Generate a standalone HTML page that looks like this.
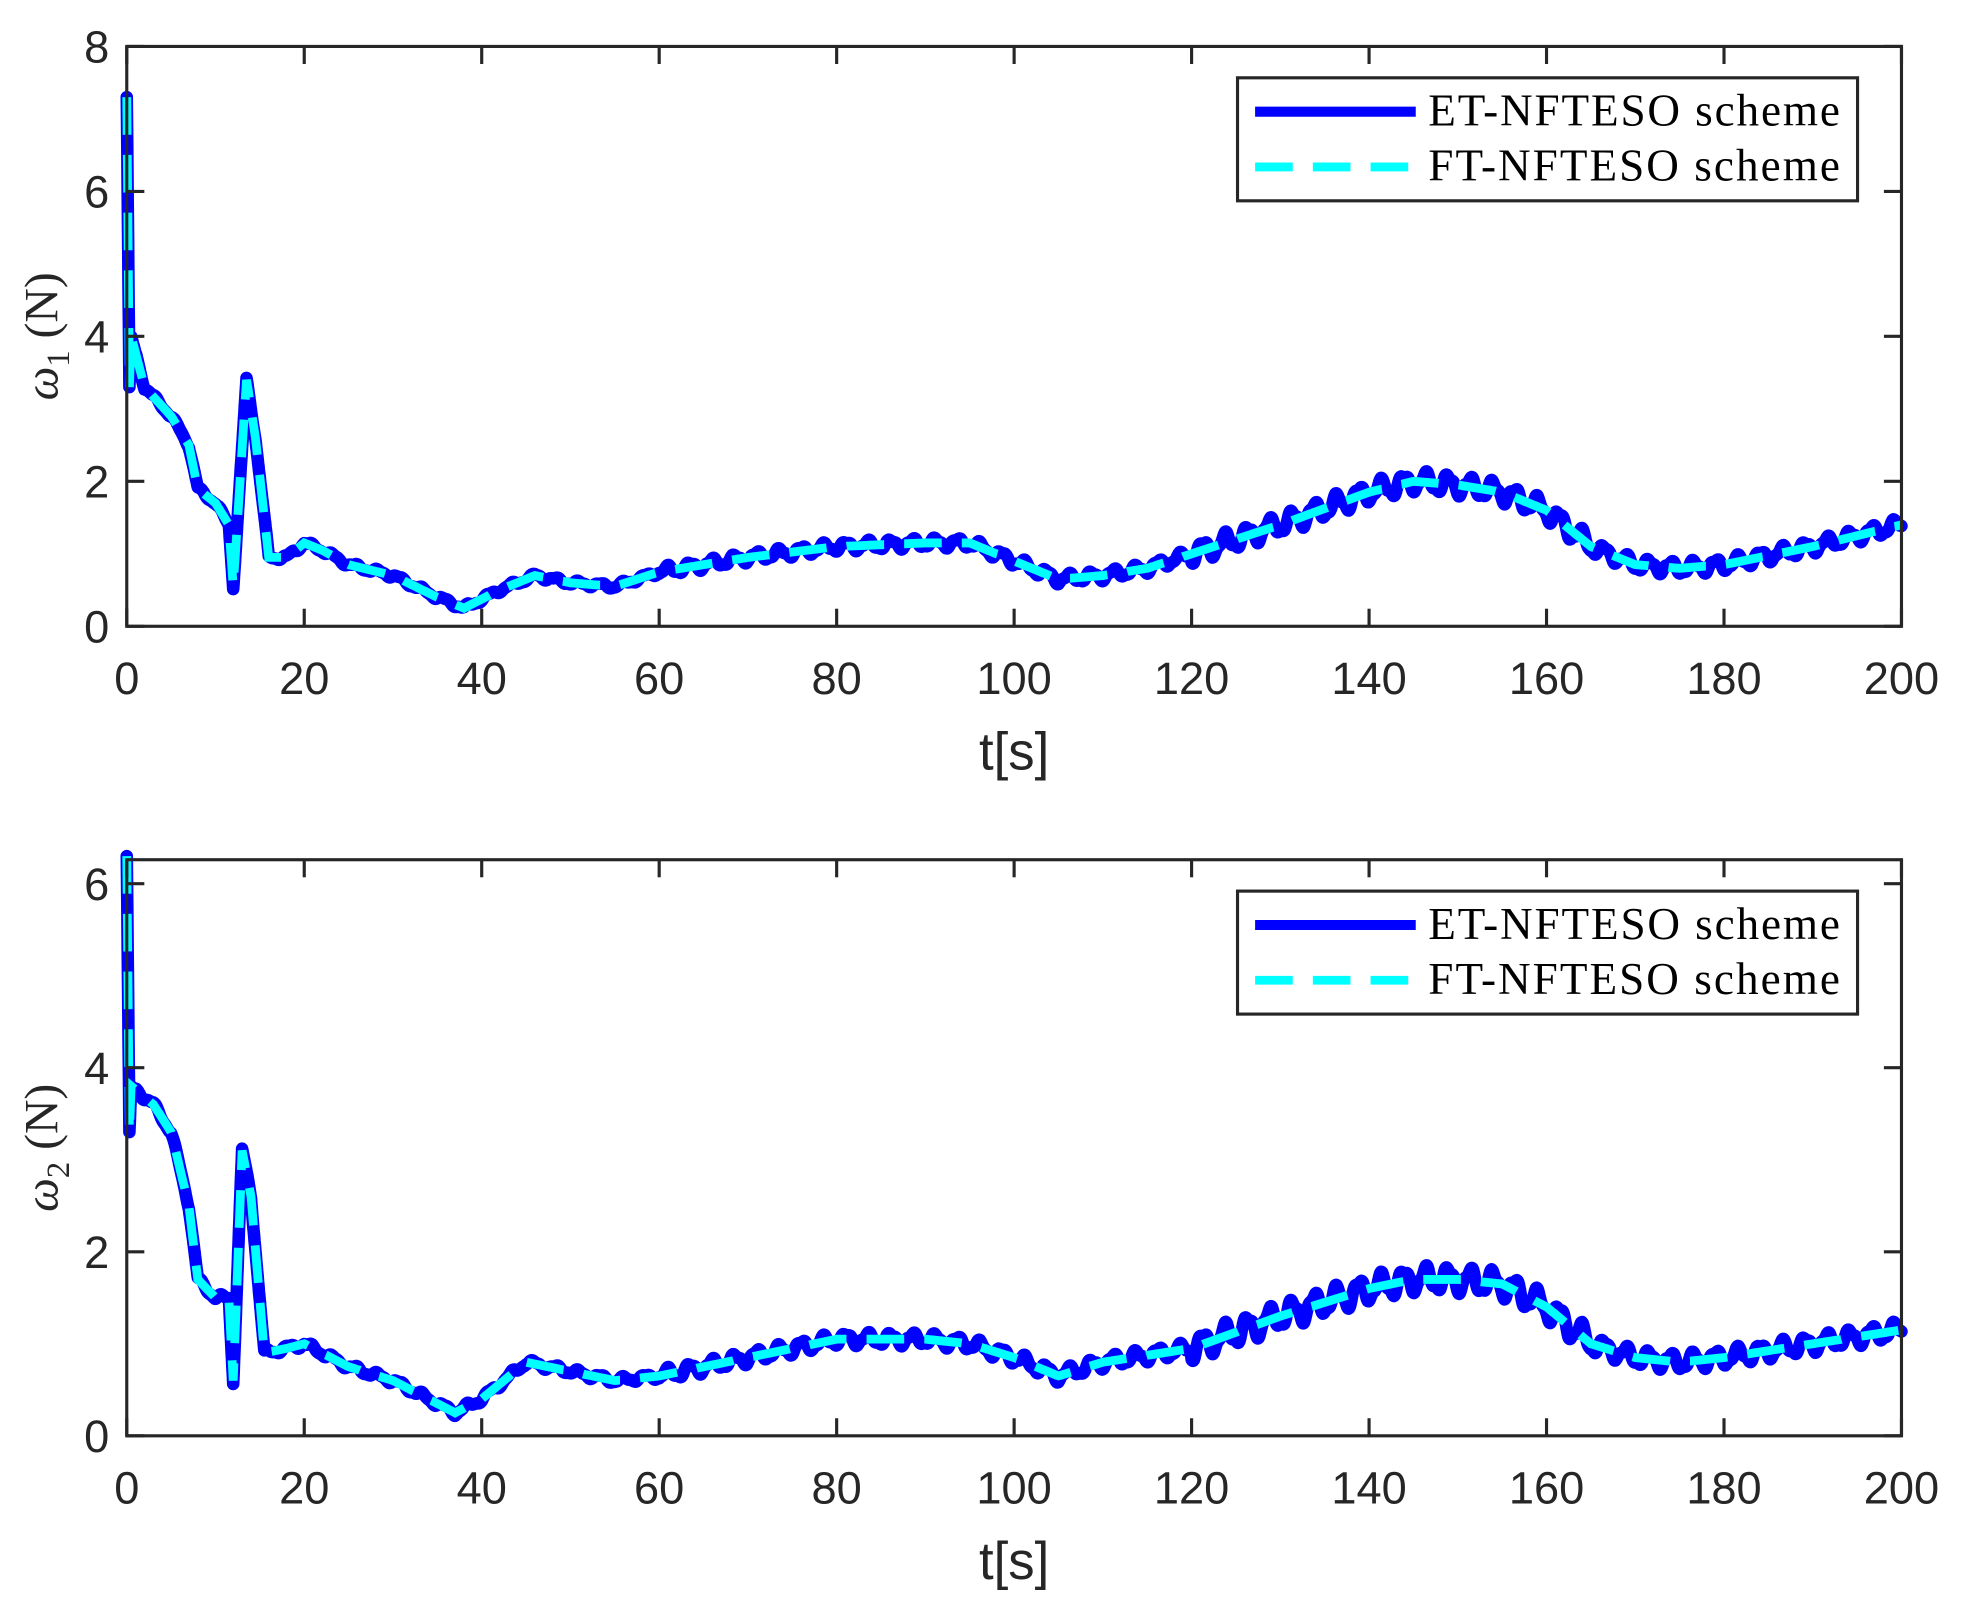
<!DOCTYPE html>
<html><head><meta charset="utf-8"><style>
html,body{margin:0;padding:0;background:#fff;}
svg{display:block;}
.tk{font-family:"Liberation Sans",sans-serif;font-size:36px;fill:#262626;}
.xl{font-family:"Liberation Sans",sans-serif;font-size:42px;fill:#262626;}
.yl{font-family:"Liberation Serif",serif;font-size:38px;fill:#262626;}
.lg{font-family:"Liberation Serif",serif;font-size:36px;fill:#000;}
</style></head><body>
<svg id="s" width="1968" height="1607" viewBox="0 0 1568 1280.4" preserveAspectRatio="none" xmlns="http://www.w3.org/2000/svg"></svg>
<script>
const S=document.getElementById('s');const NS="http://www.w3.org/2000/svg";
function el(t,a,txt){const e=document.createElementNS(NS,t);for(const k in a)e.setAttribute(k,a[k]);if(txt!==undefined)e.textContent=txt;S.appendChild(e);return e;}
const X0=101,X1=1515;const xs=t=>X0+(X1-X0)*t/200;
const top1=[[0,7.3],[0.3,3.3],[0.5,4.0],[2,3.3],[5,2.9],[7,2.5],[8,1.9],[10,1.7],[11.5,1.4],[12,0.55],[13.5,3.4],[14.5,2.6],[16,0.95],[18,0.95],[20,1.15],[22,1.05],[25,0.85],[30,0.7],[35,0.4],[38,0.25],[42,0.5],[46,0.7],[50,0.6],[55,0.55],[60,0.75],[70,0.95],[80,1.1],[90,1.15],[95,1.15],[100,0.9],[105,0.65],[110,0.7],[115,0.8],[120,1.0],[130,1.4],[140,1.85],[145,2.0],[150,1.95],[155,1.85],[160,1.6],[165,1.1],[170,0.85],[175,0.8],[180,0.85],[190,1.1],[200,1.4]];
const bot1=[[0,6.3],[0.3,3.3],[0.5,3.8],[3,3.6],[5,3.3],[7,2.5],[8,1.7],[10,1.5],[11.5,1.5],[12,0.6],[13,3.1],[14,2.6],[15.5,0.9],[18,0.95],[20,1.0],[25,0.75],[30,0.6],[35,0.35],[37,0.25],[40,0.4],[45,0.8],[50,0.7],[55,0.6],[60,0.65],[70,0.85],[80,1.05],[90,1.05],[95,1.0],[100,0.85],[105,0.65],[110,0.8],[120,0.95],[130,1.3],[140,1.6],[145,1.7],[150,1.7],[155,1.65],[160,1.4],[165,1.0],[170,0.85],[175,0.8],[180,0.85],[190,1.0],[200,1.15]];
function interp(d,t){for(let i=1;i<d.length;i++){if(t<=d[i][0]){const a=d[i-1],b=d[i];const f=(t-a[0])/(b[0]-a[0]);return a[1]+(b[1]-a[1])*f;}}return d[d.length-1][1];}
function amp(t){if(t<20)return 0.03;if(t<60)return 0.03;if(t<120)return 0.06;if(t<165)return 0.12;return 0.08;}
function panel(Y0,Y1,ymax,ticks,data,sub){
 const ys=v=>Y1-(Y1-Y0)*v/ymax;
 let pe="",pf="";
 for(let i=0;i<=4000;i++){const t=i*0.05;const v=interp(data,t);
  const e=v+(t>1?amp(t)*Math.sin(t*2.5)+0.3*amp(t)*Math.sin(t*6.1):0);
  pe+=(i?"L":"M")+xs(t).toFixed(1)+" "+ys(e).toFixed(1);
  if(i%2==0)pf+=(i?"L":"M")+xs(t).toFixed(1)+" "+ys(v).toFixed(1);}
 el('path',{d:pe,fill:'none',stroke:'#0000ff','stroke-width':10,'stroke-linejoin':'round','stroke-linecap':'round'});
 el('path',{d:pf,fill:'none',stroke:'#00ffff','stroke-width':7,'stroke-dasharray':'30 16'});
 el('rect',{x:X0,y:Y0,width:X1-X0,height:Y1-Y0,fill:'none',stroke:'#262626','stroke-width':2.5});
 for(let t=0;t<=200;t+=20){const x=xs(t);
  el('line',{x1:x,y1:Y1,x2:x,y2:Y1-14,stroke:'#262626','stroke-width':2.5});
  el('line',{x1:x,y1:Y0,x2:x,y2:Y0+14,stroke:'#262626','stroke-width':2.5});
  el('text',{x:x,y:Y1+54,'text-anchor':'middle',class:'tk'},String(t));}
 ticks.forEach(v=>{const y=ys(v);
  el('line',{x1:X0,y1:y,x2:X0+14,y2:y,stroke:'#262626','stroke-width':2.5});
  el('line',{x1:X1,y1:y,x2:X1-14,y2:y,stroke:'#262626','stroke-width':2.5});
  el('text',{x:X0-14,y:y+13,'text-anchor':'end',class:'tk'},String(v));});
 el('text',{x:808,y:Y1+114,'text-anchor':'middle',class:'xl'},'t[s]');
 const g=el('text',{x:0,y:0,class:'yl',transform:`translate(46,${(Y0+Y1)/2}) rotate(-90)`,'text-anchor':'middle'});
 g.innerHTML='<tspan font-style="italic">ω</tspan><tspan font-size="26" dy="9">'+sub+'</tspan><tspan dy="-9"> (N)</tspan>';
 const ly=Y0+25;
 el('rect',{x:986,y:ly,width:494,height:98,fill:'#fff',stroke:'#262626','stroke-width':2.5});
 el('line',{x1:1000,y1:ly+27,x2:1128,y2:ly+27,stroke:'#0000ff','stroke-width':8});
 el('line',{x1:1000,y1:ly+71,x2:1128,y2:ly+71,stroke:'#00ffff','stroke-width':7,'stroke-dasharray':'30 16'});
 el('text',{x:1138,y:ly+38,class:'lg',textLength:328},'ET-NFTESO scheme');
 el('text',{x:1138,y:ly+82,class:'lg',textLength:328},'FT-NFTESO scheme');
}
panel(37,499,8,[0,2,4,6,8],top1,'1');
panel(685,1144,6.26,[0,2,4,6],bot1,'2');
</script>
</body></html>
